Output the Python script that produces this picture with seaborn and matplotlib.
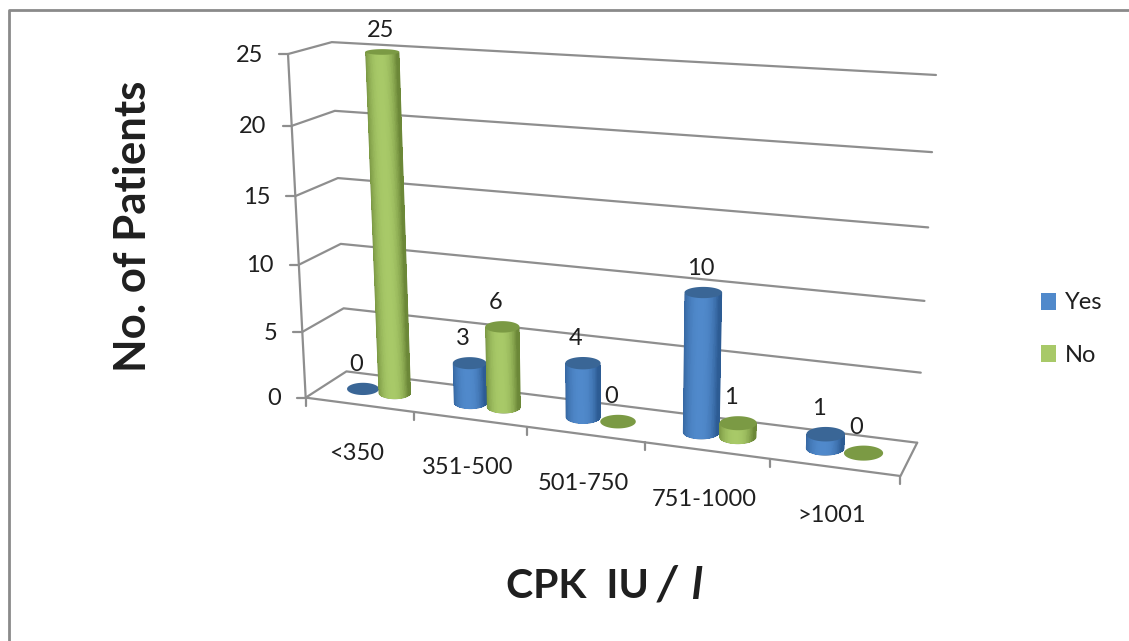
import numpy as np
import pandas as pd
import matplotlib
matplotlib.use("Agg")
import matplotlib.pyplot as plt
from matplotlib.colors import to_rgb
from matplotlib.patches import Patch, Polygon
import seaborn as sns

# Chart data
categories = ["<350", "351-500", "501-750", "751-1000", ">1001"]
yes_counts = [0, 3, 4, 10, 1]
no_counts = [25, 6, 0, 1, 0]
value_ticks = [0, 5, 10, 15, 20, 25]
series_names = ["Yes", "No"]

# Colours per series: edge shade, centre shade, cap
palette = {
    "Yes": ("#2d5c94", "#5089cb", "#3a6696"),
    "No": ("#6c8838", "#a8c968", "#7b9a44"),
}
line_colour = "#8e8e8e"
text_colour = "#1f1f1f"

W, H = 1129, 641

# Camera calibration of the 3-D box: (category pos, depth, value) -> canvas position
box_points = np.array([
    (0, 0, 0), (0, 0, 25), (0, 1, 0), (0, 1, 25), (5, 1, 0), (5, 1, 25), (5, 0, 0),
    (0, 1, 20), (0, 1, 15), (0, 1, 5), (5, 1, 20), (5, 1, 5), (5, 1, 10),
    (0, 0, 20), (0, 0, 15), (0, 0, 5), (1, 0, 0), (2, 0, 0), (4, 0, 0),
], dtype=float)
canvas_points = np.array([
    (306, 397), (287, 54), (345, 372), (332, 43), (917, 442), (936, 75), (900, 475),
    (335, 111), (338, 178), (344, 308), (932, 152), (921, 372), (925, 301),
    (292, 126), (295, 195), (303, 331), (414, 412), (527, 428), (769, 461),
], dtype=float)


def fit_camera(world, image):
    rows, rhs = [], []
    for (a, b, c), (u, v) in zip(world, image):
        rows.append([a, b, c, 1, 0, 0, 0, 0, -u * a, -u * b, -u * c])
        rows.append([0, 0, 0, 0, a, b, c, 1, -v * a, -v * b, -v * c])
        rhs += [u, v]
    sol = np.linalg.lstsq(np.array(rows), np.array(rhs), rcond=None)[0]
    return np.append(sol, 1.0).reshape(3, 4)


camera = fit_camera(box_points, canvas_points)


def project(pos, depth, value):
    p = camera @ np.array([pos, depth, value, 1.0])
    return p[0] / p[2], p[1] / p[2]


sns.set_theme(style="white")
plt.rcParams["font.family"] = ["Lato", "DejaVu Sans"]

fig = plt.figure(figsize=(W / 100, H / 100), dpi=100, facecolor="white")
ax = fig.add_axes([0, 0, 1, 1])
ax.set_xlim(0, W)
ax.set_ylim(H, 0)
ax.axis("off")

# Outer chart frame
frame = pd.DataFrame({"px": [8.7, 8.7, W + 2], "py": [H + 2, 10.3, 10.3], "id": 0})
sns.lineplot(data=frame, x="px", y="py", units="id", estimator=None, sort=False,
             color="#8a8a8a", linewidth=2.0, legend=False, ax=ax)

# Box outline, gridlines and tick marks
n_cat = len(categories)
segments = []
for v in value_ticks:
    segments.append([project(n_cat, 1, v), project(0, 1, v), project(0, 0, v)])
    fx, fy = project(0, 0, v)
    segments.append([(fx, fy), (fx - 9, fy)])
segments.append([project(0, 0, 0), project(0, 0, value_ticks[-1])])
segments.append([project(0, 0, 0), project(n_cat, 0, 0), project(n_cat, 1, 0)])
for i in range(n_cat + 1):
    bx, by = project(i, 0, 0)
    segments.append([(bx, by), (bx, by + 8)])
rows = [(k, px, py) for k, seg in enumerate(segments) for px, py in seg]
grid = pd.DataFrame(rows, columns=["id", "px", "py"])
sns.lineplot(data=grid, x="px", y="py", units="id", estimator=None, sort=False,
             color=line_colour, linewidth=1.6, legend=False, ax=ax)

# Cylinders, drawn left to right so nearer ones overlap correctly
bar_depth = 0.5
offsets = {"Yes": -0.15, "No": 0.15}
radius_x = 0.152
radius_depth = 0.23


def cap_shape(pos, value):
    cx, cy = project(pos, bar_depth, value)
    half_w = abs(project(pos + radius_x, bar_depth, value)[0]
                 - project(pos - radius_x, bar_depth, value)[0]) / 2
    half_h = abs(project(pos, bar_depth + radius_depth, value)[1]
                 - project(pos, bar_depth - radius_depth, value)[1]) / 2
    return cx, cy, half_w, half_h


def body_polygon(bottom, top, angles):
    bx, by, bw, bh = bottom
    tx, ty, tw, th = top
    lower = [(bx + bw * np.sin(a), by + bh * np.cos(a)) for a in angles]
    upper = [(tx + tw * np.sin(a), ty + th * np.cos(a)) for a in angles[::-1]]
    return lower + upper


def draw_cylinder(pos, value, series):
    edge, centre, cap = (np.array(to_rgb(c)) for c in palette[series])
    bottom = cap_shape(pos, 0)
    top = cap_shape(pos, value)
    if value > 0:
        # Smooth silhouette first, then hard-edged shading bands just inside it
        angles = np.linspace(-np.pi / 2, np.pi / 2, 61)
        ax.add_patch(Polygon(body_polygon(bottom, top, angles), closed=True,
                             facecolor=edge, edgecolor="none", zorder=4))
        inner_bottom = (bottom[0], bottom[1], bottom[2] - 0.6, bottom[3] - 0.6)
        inner_top = (top[0], top[1], top[2] - 0.6, top[3] - 0.6)
        for a0 in angles[:-1]:
            u = np.sin(a0)
            mix = np.clip(1 - abs(u + 0.12) ** 2.4, 0, 1)
            shade = edge + (centre - edge) * mix
            band = body_polygon(inner_bottom, inner_top, angles[angles >= a0])
            ax.add_patch(Polygon(band, closed=True, facecolor=shade, edgecolor="none",
                                 antialiased=False, zorder=4))
    ring = np.linspace(0, 2 * np.pi, 73)
    outline = np.column_stack([top[0] + top[2] * np.cos(ring), top[1] + top[3] * np.sin(ring)])
    ax.add_patch(Polygon(outline, closed=True, facecolor=cap, edgecolor="none", zorder=4))


for i in range(n_cat):
    for name, counts in zip(series_names, (yes_counts, no_counts)):
        draw_cylinder(i + 0.5 + offsets[name], counts[i], name)

# Value labels above each cylinder
for i in range(n_cat):
    for name, counts in zip(series_names, (yes_counts, no_counts)):
        pos = i + 0.5 + offsets[name]
        tx, ty, _, th = cap_shape(pos, counts[i])
        shift = -1.5 if counts[i] >= 10 else -5
        ax.annotate(str(counts[i]), (tx, ty - th), xytext=(shift, 13.3),
                    textcoords="offset points", ha="center", va="center",
                    fontsize=17, color=text_colour, zorder=6)

# Tick labels
for v in value_ticks:
    fx, fy = project(0, 0, v)
    ax.annotate(str(v), (fx, fy), xytext=(-18, -0.8), textcoords="offset points",
                ha="right", va="center", fontsize=17, color=text_colour)
for i, label in enumerate(categories):
    fx, fy = project(i + 0.5, 0, 0)
    ax.annotate(label, (fx, fy), xytext=(-1.5, -35), textcoords="offset points",
                ha="center", va="center", fontsize=17, color=text_colour)

# Axis titles
ax.text(133, 226, "No. of Patients", rotation=90, ha="center", va="center",
        fontsize=31.5, fontweight="bold", color=text_colour)
ax.text(506, 586, "CPK  IU", ha="left", va="center",
        fontsize=29.5, fontweight="bold", color=text_colour)
ax.text(667, 585, "/", ha="center", va="center",
        fontsize=34, fontweight="bold", fontstyle="italic", color=text_colour)
ax.text(696, 586, "l", ha="center", va="center",
        fontsize=32, fontweight="bold", fontstyle="italic", color=text_colour)

# Legend
handles = [Patch(facecolor=palette[n][1], edgecolor="none", label=n) for n in series_names]
ax.legend(handles=handles, loc="center left", bbox_to_anchor=(1041 / W, 1 - 329 / H),
          frameon=False, fontsize=17, labelcolor=text_colour, handlelength=0.64,
          handleheight=0.72, handletextpad=0.38, labelspacing=1.32, borderpad=0,
          borderaxespad=0)

fig.savefig("out.png", dpi=100)
